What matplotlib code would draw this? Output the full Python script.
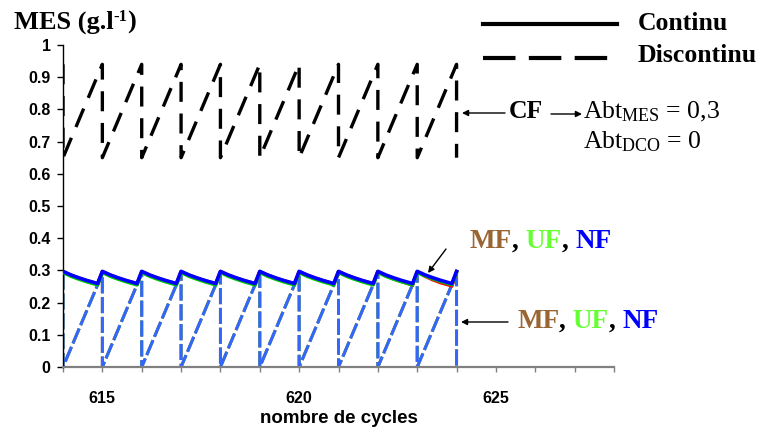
import matplotlib
matplotlib.use('Agg')
import matplotlib.pyplot as plt
from matplotlib.lines import Line2D

plt.rcParams['mathtext.fontset'] = 'custom'
plt.rcParams['mathtext.rm'] = 'Liberation Serif'
plt.rcParams['mathtext.bf'] = 'Liberation Serif:bold'
plt.rcParams['mathtext.it'] = 'Liberation Serif:italic'

# ---------------- data ----------------
# continuous operation (solid lines), MES in g/l versus cycle number
t_cont = [
    614.0, 614.2, 614.4, 614.6, 614.8, 614.88,
    615.0, 615.2, 615.4, 615.6, 615.8, 615.88,
    616.0, 616.2, 616.4, 616.6, 616.8, 616.88,
    617.0, 617.2, 617.4, 617.6, 617.8, 617.88,
    618.0, 618.2, 618.4, 618.6, 618.8, 618.88,
    619.0, 619.2, 619.4, 619.6, 619.8, 619.88,
    620.0, 620.2, 620.4, 620.6, 620.8, 620.88,
    621.0, 621.2, 621.4, 621.6, 621.8, 621.88,
    622.0, 622.2, 622.4, 622.6, 622.8, 622.88,
    623.0, 623.2, 623.4, 623.6, 623.8, 623.88,
    624.0]
NF_cont = [
    0.297, 0.286, 0.277, 0.269, 0.262, 0.259,
    0.297, 0.286, 0.277, 0.269, 0.262, 0.259,
    0.297, 0.286, 0.277, 0.269, 0.262, 0.259,
    0.297, 0.286, 0.277, 0.269, 0.262, 0.259,
    0.297, 0.286, 0.277, 0.269, 0.262, 0.259,
    0.297, 0.286, 0.277, 0.269, 0.262, 0.259,
    0.297, 0.286, 0.277, 0.269, 0.262, 0.259,
    0.297, 0.286, 0.277, 0.269, 0.262, 0.259,
    0.297, 0.286, 0.277, 0.269, 0.262, 0.259,
    0.297, 0.286, 0.277, 0.269, 0.262, 0.259,
    0.297]
UF_cont = [
    0.294, 0.282, 0.273, 0.265, 0.258, 0.255,
    0.294, 0.282, 0.273, 0.265, 0.258, 0.255,
    0.294, 0.282, 0.273, 0.265, 0.258, 0.255,
    0.294, 0.282, 0.273, 0.265, 0.258, 0.255,
    0.294, 0.282, 0.273, 0.265, 0.258, 0.255,
    0.294, 0.282, 0.273, 0.265, 0.258, 0.255,
    0.294, 0.282, 0.273, 0.265, 0.258, 0.255,
    0.294, 0.282, 0.273, 0.265, 0.258, 0.255,
    0.294, 0.282, 0.273, 0.265, 0.258, 0.255,
    0.294, 0.283, 0.274, 0.266, 0.259, 0.256,
    0.294]
MF_cont = [
    0.296, 0.285, 0.276, 0.268, 0.261, 0.258,
    0.296, 0.285, 0.276, 0.268, 0.261, 0.258,
    0.296, 0.285, 0.276, 0.268, 0.261, 0.258,
    0.296, 0.285, 0.276, 0.268, 0.261, 0.258,
    0.296, 0.285, 0.276, 0.268, 0.261, 0.258,
    0.296, 0.285, 0.276, 0.268, 0.261, 0.258,
    0.296, 0.285, 0.276, 0.268, 0.261, 0.258,
    0.296, 0.285, 0.276, 0.268, 0.261, 0.258,
    0.296, 0.284, 0.274, 0.266, 0.258, 0.255,
    0.296, 0.282, 0.271, 0.262, 0.255, 0.252,
    0.296]

# discontinuous operation (dashed lines)
t_disc = [614, 614, 615, 615, 616, 616, 617, 617, 618, 618, 619, 619,
          620, 620, 621, 621, 622, 622, 623, 623, 624, 624]
MFUFNF_disc = [0.29, 0.0, 0.29, 0.0, 0.29, 0.0, 0.29, 0.0, 0.29, 0.0, 0.29, 0.0,
               0.29, 0.0, 0.29, 0.0, 0.29, 0.0, 0.29, 0.0, 0.29, 0.0]
CF_disc = [0.94, 0.65, 0.94, 0.65, 0.94, 0.65, 0.94, 0.65, 0.94, 0.65, 0.94, 0.65,
           0.94, 0.65, 0.94, 0.65, 0.94, 0.65, 0.94, 0.65, 0.94, 0.65]

y_ticks = [0, 0.1, 0.2, 0.3, 0.4, 0.5, 0.6, 0.7, 0.8, 0.9, 1]
y_labels = ['0', '0.1', '0.2', '0.3', '0.4', '0.5', '0.6', '0.7', '0.8', '0.9', '1']
x_ticks = [614, 615, 616, 617, 618, 619, 620, 621, 622, 623, 624, 625, 626, 627, 628]
x_labels = ['', '615', '', '', '', '', '620', '', '', '', '', '625', '', '', '']

# ---------------- figure ----------------
W, H = 762, 428
def F(x, y):
    return (x / W, 1 - y / H)

fig = plt.figure(figsize=(W / 100, H / 100), dpi=100)
ax = fig.add_axes([63 / W, 1 - 367 / H, (614 - 63) / W, (367 - 45) / H])
renderer = fig.canvas.get_renderer()

blue_d = '#3366ff'
ax.plot(t_disc, MFUFNF_disc, color='#ff3333', lw=2.1, dashes=(5.5, 1.3), zorder=2)
ax.plot(t_disc, MFUFNF_disc, color='#33cc33', lw=2.1, dashes=(5.5, 1.3), zorder=2)
ax.plot(t_disc, MFUFNF_disc, color=blue_d, lw=2.1, dashes=(5.5, 1.3), zorder=2)
ax.plot(t_disc, CF_disc, color='black', lw=2.4, dashes=(6, 3.5), zorder=3)

ax.plot(t_cont, MF_cont, color='#ff0000', lw=2.6, zorder=4)
ax.plot(t_cont, UF_cont, color='#00cc00', lw=2.6, zorder=5)
ax.plot(t_cont, NF_cont, color='#0000ff', lw=2.6, zorder=6)

ax.set_xlim(614, 628)
ax.set_ylim(0, 1)
ax.set_yticks(y_ticks)
ax.set_yticklabels(y_labels)
ax.set_xticks(x_ticks)
ax.set_xticklabels(x_labels)

for s in ['top', 'right']:
    ax.spines[s].set_visible(False)
ax.spines['left'].set_color('black')
ax.spines['left'].set_linewidth(1)
ax.spines['bottom'].set_color('#808080')
ax.spines['bottom'].set_linewidth(1.6)

ax.tick_params(axis='y', direction='out', length=4, width=1, color='black', pad=5)
ax.tick_params(axis='x', direction='out', length=3.5, width=1, color='#808080', pad=14)
for lab in ax.get_yticklabels() + ax.get_xticklabels():
    lab.set_fontfamily('Liberation Sans')
    lab.set_fontweight('bold')
    lab.set_fontsize(11.5)

ax.set_xlabel('nombre de cycles', fontfamily='Liberation Sans', fontweight='bold',
              fontsize=13.5, labelpad=3)

serif_b = dict(family='Liberation Serif', weight='bold', size=18.5)
serif_lbl = dict(family='Liberation Serif', weight='bold', size=19.5)
serif_n = dict(family='Liberation Serif', size=18.5)


def seq_text(x, y, parts):
    """Draw consecutive text pieces on one baseline (x, y in pixels)."""
    for txt, col, props, dy in parts:
        t = fig.text(*F(x, y + dy), txt, color=col, va='baseline', ha='left', **props)
        x += t.get_window_extent(renderer).width


# y-axis title
sup = dict(family='Liberation Serif', weight='bold', size=12)
big = dict(family='Liberation Serif', weight='bold', size=19)
seq_text(14, 29, [('MES (g.l', 'black', big, 0), ('-1', 'black', sup, -8),
                  (')', 'black', big, 0)])

# legend
fig.add_artist(Line2D([483 / W, 617 / W], [1 - 24 / H, 1 - 24 / H], color='black', lw=3))
fig.add_artist(Line2D([483 / W, 620 / W], [1 - 58 / H, 1 - 58 / H], color='black', lw=3,
                      dashes=(7.8, 3.2)))
fig.text(*F(638, 24), 'Continu', va='center', ha='left', **serif_b)
fig.text(*F(638, 55), 'Discontinu', va='center', ha='left', **serif_b)

arrow = dict(arrowstyle='-|>', color='black', lw=1, mutation_scale=9, shrinkA=0, shrinkB=0)

# CF annotation
ax.annotate('', xy=F(462, 113), xytext=F(505, 113), xycoords='figure fraction',
            textcoords='figure fraction', arrowprops=arrow)
fig.text(*F(509, 112), 'CF', va='center', ha='left', **serif_b)
ax.annotate('', xy=F(582, 114), xytext=F(551, 114), xycoords='figure fraction',
            textcoords='figure fraction', arrowprops=arrow)
fig.text(*F(583, 112), r'Abt$_{\mathrm{MES}}$ = 0,3', va='center', ha='left', **serif_n)
fig.text(*F(583, 142), r'Abt$_{\mathrm{DCO}}$ = 0', va='center', ha='left', **serif_n)

# MF, UF, NF multicoloured labels
label_parts = [('MF', '#996633', serif_lbl, 0), (', ', 'black', serif_lbl, 0),
               ('UF', '#66ff33', serif_lbl, 0), (', ', 'black', serif_lbl, 0),
               ('NF', '#0000ff', serif_lbl, 0)]
seq_text(470, 248, label_parts)
ax.annotate('', xy=F(428, 273), xytext=F(446, 249), xycoords='figure fraction',
            textcoords='figure fraction', arrowprops=arrow)
seq_text(517, 328, label_parts)
ax.annotate('', xy=F(461, 322), xytext=F(508, 322), xycoords='figure fraction',
            textcoords='figure fraction', arrowprops=arrow)

fig.savefig('out.png', dpi=100)
